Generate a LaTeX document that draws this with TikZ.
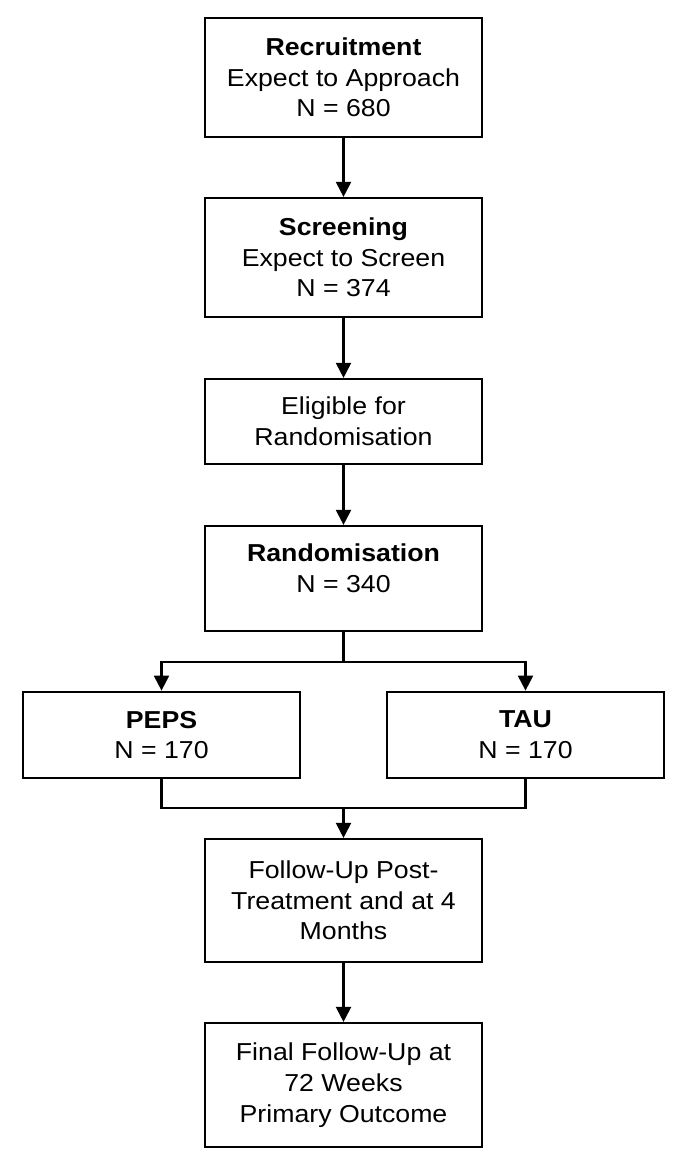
\documentclass[tikz,border=0pt]{standalone}
\usepackage{fontspec}
\setmainfont{Liberation Sans}[FakeStretch=1.09]
\usetikzlibrary{arrows.meta}
\begin{document}
\begin{tikzpicture}[x=1pt,y=-1pt,
  box/.style={draw=black, line width=2.2pt, minimum width=277pt, inner sep=0pt, align=center,
    font=\fontsize{24.5}{30.7}\selectfont},
  txt/.style={inner sep=0pt, align=center, font=\fontsize{24.5}{30.7}\selectfont},
  conn/.style={line width=2.2pt, line join=miter},
  arr/.style={conn, -{Triangle[length=15pt,width=15pt]}}]
\useasboundingbox[fill=white] (0,0) rectangle (685,1158);

\node[box, minimum height=119pt] (rec) at (343.5,77.5) {\textbf{Recruitment}\\Expect to Approach\\N = 680};
\node[box, minimum height=119pt] (scr) at (343.5,257.5) {\textbf{Screening}\\Expect to Screen\\N = 374};
\node[box, minimum height=85pt] (eli) at (343.5,421.5) {Eligible for\\Randomisation};
\node[box, minimum height=105pt] (ran) at (343.5,578.5) {};
\node[txt] (rant) at (343.5,568) {\textbf{Randomisation}\\N = 340};
\node[box, minimum height=86.6pt] (peps) at (161.5,735) {\textbf{PEPS}\\N = 170};
\node[box, minimum height=86.6pt] (tau) at (525.5,735) {\textbf{TAU}\\N = 170};
\node[box, minimum height=123pt] (fu) at (343.5,900.5) {Follow-Up Post-\\Treatment and at 4\\Months};
\node[box, minimum height=124pt] (fin) at (343.5,1085) {Final Follow-Up at\\72 Weeks\\Primary Outcome};

\coordinate (split) at (343.5,661.7);
\coordinate (merge) at (343.5,808.3);

\draw[arr] (rec.south) -- (scr.north);
\draw[arr] (scr.south) -- (eli.north);
\draw[arr] (eli.south) -- (ran.north);
\draw[conn] (ran.south) -- (split);
\draw[arr] (split) -| (peps.north);
\draw[arr] (split) -| (tau.north);
\draw[conn] (peps.south) |- (merge);
\draw[conn] (tau.south) |- (merge);
\draw[arr] (merge) -- (fu.north);
\draw[arr] (fu.south) -- (fin.north);
\end{tikzpicture}
\end{document}
